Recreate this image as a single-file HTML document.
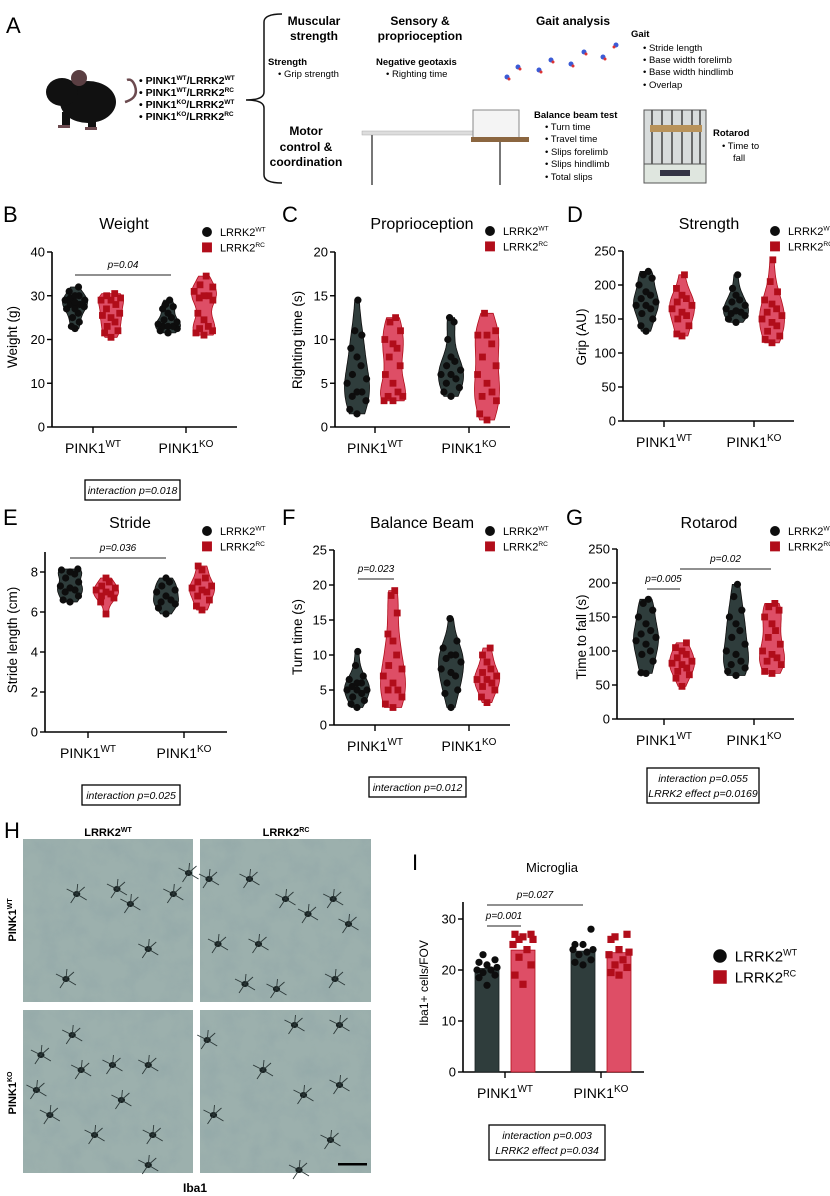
<!DOCTYPE html>
<html><head><meta charset="utf-8">
<style>
html,body{margin:0;padding:0;background:#fff;}
body{width:830px;height:1196px;overflow:hidden;position:relative;font-family:"Liberation Sans",sans-serif;}
svg{position:absolute;left:0;top:0;}
</style></head>
<body>
<svg id="fig" width="830" height="1196" viewBox="0 0 830 1196" xmlns="http://www.w3.org/2000/svg" font-family="Liberation Sans, sans-serif">
<defs>
<filter id="tex" x="0" y="0" width="100%" height="100%">
<feTurbulence type="fractalNoise" baseFrequency="0.05" numOctaves="4" seed="3" result="n"/>
<feColorMatrix in="n" type="matrix" values="0 0 0 0 0.30  0 0 0 0 0.40  0 0 0 0 0.40  -2.2 0 0 0 1.35" result="c"/>
<feComposite in="c" in2="SourceGraphic" operator="in"/>
</filter>
</defs>

<!-- Panel A -->
<g>
<text x="6" y="33" font-size="22">A</text>
<g>
<path d="M125 102 q14 -4 10 -16 q-3 -8 -8 -6" stroke="#6b4a4f" stroke-width="2.5" fill="none"/>
<ellipse cx="88" cy="102" rx="28" ry="21" fill="#111"/>
<ellipse cx="62" cy="92" rx="16" ry="14" fill="#111"/>
<circle cx="79" cy="78" r="8" fill="#5a3e42"/>
<rect x="62" y="112" width="8" height="15" fill="#111"/><rect x="88" y="112" width="8" height="17" fill="#111"/>
<rect x="58" y="125" width="12" height="3" fill="#6b4a4f"/><rect x="85" y="127" width="12" height="3" fill="#6b4a4f"/>
</g>
<g font-size="10.5" font-weight="bold">
<text x="139" y="84">• PINK1<tspan font-size="6.5" dy="-4">WT</tspan><tspan dy="4">/LRRK2</tspan><tspan font-size="6.5" dy="-4">WT</tspan></text>
<text x="139" y="96">• PINK1<tspan font-size="6.5" dy="-4">WT</tspan><tspan dy="4">/LRRK2</tspan><tspan font-size="6.5" dy="-4">RC</tspan></text>
<text x="139" y="108">• PINK1<tspan font-size="6.5" dy="-4">KO</tspan><tspan dy="4">/LRRK2</tspan><tspan font-size="6.5" dy="-4">WT</tspan></text>
<text x="139" y="120">• PINK1<tspan font-size="6.5" dy="-4">KO</tspan><tspan dy="4">/LRRK2</tspan><tspan font-size="6.5" dy="-4">RC</tspan></text>
</g>
<path d="M282 14 q-18 0 -18 8 v70 q0 8 -18 8 q18 0 18 8 v67 q0 8 18 8" stroke="#111" stroke-width="1.5" fill="none"/>
<g font-size="12" font-weight="bold" text-anchor="middle">
<text x="314" y="25">Muscular</text><text x="314" y="40">strength</text>
<text x="420" y="25">Sensory &amp;</text><text x="420" y="40">proprioception</text>
<text x="573" y="25">Gait analysis</text>
<text x="306" y="135">Motor</text><text x="306" y="151">control &amp;</text><text x="306" y="166">coordination</text>
</g>
<g font-size="9.5">
<text x="268" y="65" font-weight="bold">Strength</text>
<text x="278" y="77">• Grip strength</text>
<text x="376" y="65" font-weight="bold">Negative geotaxis</text>
<text x="386" y="77">• Righting time</text>
<text x="631" y="37" font-weight="bold">Gait</text>
<text x="643" y="51">• Stride length</text>
<text x="643" y="63">• Base width forelimb</text>
<text x="643" y="75">• Base width hindlimb</text>
<text x="643" y="88">• Overlap</text>
<text x="534" y="118" font-weight="bold">Balance beam test</text>
<text x="545" y="130">• Turn time</text>
<text x="545" y="142">• Travel time</text>
<text x="545" y="155">• Slips forelimb</text>
<text x="545" y="167">• Slips hindlimb</text>
<text x="545" y="180">• Total slips</text>
<text x="713" y="136" font-weight="bold">Rotarod</text>
<text x="722" y="149">• Time to</text>
<text x="733" y="161">fall</text>
</g>
<g>
<g fill="#3b5bd6"><circle cx="507" cy="77" r="2.5"/><circle cx="518" cy="67" r="2.5"/><circle cx="539" cy="70" r="2.5"/><circle cx="551" cy="60" r="2.5"/><circle cx="571" cy="64" r="2.5"/><circle cx="584" cy="52" r="2.5"/><circle cx="603" cy="57" r="2.5"/><circle cx="616" cy="45" r="2.5"/></g>
<g fill="#d33"><circle cx="509" cy="79" r="1.5"/><circle cx="520" cy="69" r="1.5"/><circle cx="541" cy="72" r="1.5"/><circle cx="553" cy="62" r="1.5"/><circle cx="573" cy="66" r="1.5"/><circle cx="586" cy="54" r="1.5"/><circle cx="605" cy="59" r="1.5"/><circle cx="614" cy="47" r="1.5"/></g>
</g>
<g>
<rect x="362" y="131" width="112" height="4" fill="#ddd" stroke="#aaa" stroke-width="0.5"/>
<rect x="371" y="135" width="2" height="50" fill="#777"/><rect x="499" y="140" width="2" height="45" fill="#777"/>
<rect x="473" y="110" width="46" height="28" fill="#f4f4f4" stroke="#888"/>
<rect x="471" y="137" width="58" height="5" fill="#8b6640"/>
</g>
<g>
<rect x="644" y="110" width="62" height="54" fill="#d8dcdc" stroke="#555"/>
<g stroke="#444" stroke-width="1.5"><line x1="652" y1="110" x2="652" y2="164"/><line x1="662" y1="110" x2="662" y2="164"/><line x1="672" y1="110" x2="672" y2="164"/><line x1="682" y1="110" x2="682" y2="164"/><line x1="692" y1="110" x2="692" y2="164"/><line x1="700" y1="110" x2="700" y2="164"/></g>
<rect x="650" y="125" width="52" height="7" fill="#b8925a"/>
<rect x="644" y="164" width="62" height="19" fill="#dfe6df" stroke="#555"/>
<rect x="660" y="170" width="30" height="6" fill="#334"/>
</g>
</g>

<!-- Micrographs panel H -->
<g>
<text x="4" y="838" font-size="22">H</text>
<text x="108" y="836" font-size="11" font-weight="bold" text-anchor="middle">LRRK2<tspan font-size="7" dy="-4">WT</tspan></text>
<text x="286" y="836" font-size="11" font-weight="bold" text-anchor="middle">LRRK2<tspan font-size="7" dy="-4">RC</tspan></text>
<text transform="translate(16,920) rotate(-90)" font-size="11" font-weight="bold" text-anchor="middle">PINK1<tspan font-size="7" dy="-4">WT</tspan></text>
<text transform="translate(16,1093) rotate(-90)" font-size="11" font-weight="bold" text-anchor="middle">PINK1<tspan font-size="7" dy="-4">KO</tspan></text>
<g id="micro"></g>
<rect x="338" y="1163" width="29" height="2.5" fill="#000"/>
<text x="195" y="1192" font-size="12" font-weight="bold" text-anchor="middle">Iba1</text>
</g>

<g id="charts"></g>
</svg>

<script>
// ---------- DATA ----------
const categories = ["PINK1WT", "PINK1KO"];
const seriesNames = ["LRRK2WT", "LRRK2RC"];

const weightWtWt = [22.5,23,24,25,26,27,27.5,28,28.5,29,29,29.5,30,30,31,32,28,27];
const weightWtRc = [20.5,21.5,22,23,24,25,25.5,26,27,28,29,29,29.5,30,30.5];
const weightKoWt = [21.5,22,22.5,23,23,23.5,24,24.5,25,26,27,27.5,28,29,23];
const weightKoRc = [21,21.5,22,22.5,23,24.5,26,29,29.5,30,30,31,32,32.5,34.5];

const rightWtWt = [1.5,2,3,3.5,4,4,5,5.5,6,7,8,9,10.5,11,14.5];
const rightWtRc = [3,3,3.5,3.5,4,5,6,7,8,9,9.5,10,11,12,12.5];
const rightKoWt = [3.5,4,4.5,5,5.5,6,6,6.5,7,7.5,8,10,12,12.5];
const rightKoRc = [0.8,1.5,3,3.5,4,5,6,7,8,9.5,10.5,10.5,11,13];

const gripWtWt = [132,140,150,158,165,170,175,180,185,190,200,210,215,220,170];
const gripWtRc = [125,128,140,150,155,160,165,170,175,180,185,195,215];
const gripKoWt = [145,150,155,158,162,165,170,175,178,185,195,215,160];
const gripKoRc = [115,120,125,132,140,145,150,155,160,165,172,178,190,205,237];

const strideWtWt = [6.5,6.6,6.8,7,7.1,7.3,7.5,7.7,7.9,8,8.1,8.15,7.2];
const strideWtRc = [5.9,6.5,6.7,6.8,6.9,7,7.1,7.2,7.3,7.5,7.7];
const strideKoWt = [5.9,6.2,6.4,6.5,6.6,6.8,7,7.1,7.3,7.5,7.7];
const strideKoRc = [6.1,6.3,6.6,6.8,7,7.1,7.2,7.3,7.5,7.7,8.1,8.3];

const turnWtWt = [2.5,3,3.5,4,4.5,5,5,5,5.5,6,6,6.5,7,8.5,10.5];
const turnWtRc = [2.5,3,4,5,5,6,7,8,8.5,10,12,13,16,18.5,19.2];
const turnKoWt = [2.5,4.5,5,6,7,7.5,8,9,9.5,10,10,11,12,15.2];
const turnKoRc = [3.2,4,5,5.5,6,6.5,6.5,7,7.5,8,9,10,11];

const rotaWtWt = [67,68,85,95,100,110,115,120,125,130,140,150,160,170,176];
const rotaWtRc = [48,60,65,70,75,80,82,85,90,95,100,105,112];
const rotaKoWt = [64,70,75,80,85,95,100,110,120,130,140,150,160,180,198];
const rotaKoRc = [67,70,80,85,90,95,100,110,120,130,140,150,160,165,170];

const microWtWt = [17,18.5,19,19.5,20,20,20.5,21,21.5,22,23];
const microWtRc = [17.2,19,21,22.5,24,25,26,26.5,27,27,26];
const microKoWt = [21,21.5,22,23,23.5,24,24,25,25,28];
const microKoRc = [19,19.5,20.5,21,22,23,23.5,24,26,27,26.5];
const microMeans = [20.3, 23.9, 23.7, 23.4];

const tickLabels = {
  weight:["0","10","20","30","40"], right:["0","5","10","15","20"], grip:["0","50","100","150","200","250"],
  stride:["0","2","4","6","8"], turn:["0","5","10","15","20","25"], rota:["0","50","100","150","200","250"], micro:["0","10","20","30"]
};

// ---------- DRAWING ----------
const NS = "http://www.w3.org/2000/svg";
const root = document.getElementById("charts");
function mk(tag, attrs, parent){ const e=document.createElementNS(NS,tag); for(const k in attrs) e.setAttribute(k,attrs[k]); (parent||root).appendChild(e); return e; }
const DARK="#2f3d3c", DARKPT="#0d0d0d", RED="#de4e66", REDPT="#b10d1a";

function catLabel(g, x, y, cat){
  const t = mk("text",{x:x,y:y,"font-size":14,"text-anchor":"middle"},g);
  
  
  t.appendChild(document.createTextNode("PINK1"));
  const s = mk("tspan",{"font-size":10,dy:-6},t); s.textContent = cat.replace("PINK1","");
}
function legend(g, x, y, size){
  const fs = size||11, r = fs*0.45;
  const c = mk("circle",{cx:x,cy:y,r:r,fill:DARKPT},g);
  
  
  const t1 = mk("text",{x:x+r+8,y:y+fs*0.35,"font-size":fs},g);
  
  
  t1.textContent="LRRK2"; const s1=mk("tspan",{"font-size":fs*0.6,dy:-fs*0.4},t1); s1.textContent="WT";
  const y2 = y + fs*1.4;
  const q = mk("rect",{x:x-r,y:y2-r,width:2*r,height:2*r,fill:REDPT},g);
  
  
  const t2 = mk("text",{x:x+r+8,y:y2+fs*0.35,"font-size":fs},g);
  
  
  t2.textContent="LRRK2"; const s2=mk("tspan",{"font-size":fs*0.6,dy:-fs*0.4},t2); s2.textContent="RC";
}
function pline(g, x1, x2, y, label){
  const l = mk("line",{x1:x1,x2:x2,y1:y,y2:y,stroke:"#222","stroke-width":1},g);
  
  
  const t = mk("text",{x:(x1+x2)/2,y:y-7,"font-size":10,"font-style":"italic","text-anchor":"middle"},g);
  
  
  t.textContent = label;
}
function statBox(x, y, w, lines, name){
  const g = mk("g",{});
  
  
  mk("rect",{x:x,y:y,width:w,height:lines.length*15+5,fill:"#fff",stroke:"#000","stroke-width":1.3},g);
  lines.forEach((s,i)=>{ const t=mk("text",{x:x+w/2,y:y+14+i*15,"font-size":10.5,"font-style":"italic","text-anchor":"middle"},g); t.textContent=s; });
}

function axes(g, p){
  const yScale = v => p.y0 + (p.yT - p.y0) * v / p.vT;
  mk("line",{x1:p.ax,x2:p.ax,y1:p.axTop!==undefined?p.axTop:p.yT,y2:p.y0+0.5,stroke:"#000","stroke-width":1.6},g);
  mk("line",{x1:p.ax,x2:p.xEnd,y1:p.y0,y2:p.y0,stroke:"#000","stroke-width":1.6},g);
  p.ticks.forEach((lab)=>{
    const v = parseFloat(lab), y = yScale(v);
    mk("line",{x1:p.ax-5,x2:p.ax,y1:y,y2:y,stroke:"#000","stroke-width":1.4},g);
    const t = mk("text",{x:p.ax-7,y:y+4.5,"font-size":13,"text-anchor":"end"},g);
    
    
    t.textContent = lab;
  });
  p.cx.forEach((x,i)=>{
    mk("line",{x1:x,x2:x,y1:p.y0,y2:p.y0+6,stroke:"#000","stroke-width":1.4},g);
    catLabel(g, x, p.y0+26, categories[i]);
  });
  const yt = mk("text",{transform:`translate(${p.ytx},${p.yty}) rotate(-90)`,"font-size":p.ytfs||13.5,"text-anchor":"middle"},g);
  
  
  yt.textContent = p.ytitle;
  const tt = mk("text",{x:p.tx,y:p.ty,"font-size":p.tfs||16,"text-anchor":"middle"},g);
  
  
  tt.textContent = p.title;
  const L = mk("text",{x:p.lx,y:p.ly,"font-size":22},g);
  
  
  L.textContent = p.letter;
  return yScale;
}

function violin(g, vals, cx, yScale, fill, ptFill, square, name){
  const vg = mk("g",{},g);
  
  
  const mn = Math.min(...vals), mx = Math.max(...vals), rng = (mx-mn)||1, bw = rng*0.16;
  const N = 40, dens = [];
  for(let i=0;i<=N;i++){ const v = mn + rng*i/N; let d=0; vals.forEach(u=>{ d+=Math.exp(-0.5*((v-u)/bw)**2); }); dens.push([v,d]); }
  const dmax = Math.max(...dens.map(d=>d[1])), W = 12.5;
  let path = "";
  dens.forEach((d,i)=>{ path += (i?"L":"M") + (cx + W*d[1]/dmax).toFixed(1) + " " + yScale(d[0]).toFixed(1) + " "; });
  for(let i=N;i>=0;i--){ const d=dens[i]; path += "L" + (cx - W*d[1]/dmax).toFixed(1) + " " + yScale(d[0]).toFixed(1) + " "; }
  const pv = mk("path",{d:path+"Z",fill:fill,stroke:ptFill,"stroke-width":0.8},vg);
  
  
  const sorted = vals.slice().sort((a,b)=>a-b);
  sorted.forEach((v,i)=>{
    let d=0; vals.forEach(u=>{ d+=Math.exp(-0.5*((v-u)/bw)**2); });
    const hw = W*d/dmax*0.8, off = [0,-1,1,-0.5,0.5][i%5]*hw;
    const x = cx+off, y = yScale(v);
    let m;
    if(square){ m = mk("rect",{x:x-3.4,y:y-3.4,width:6.8,height:6.8,fill:ptFill},vg); }
    else { m = mk("circle",{cx:x,cy:y,r:3.6,fill:ptFill},vg); }
    
    
  });
}

function violinPanel(p, groups, name){
  const g = mk("g",{});
  
  
  const ys = axes(g, p);
  const off = 18;
  violin(g, groups[0], p.cx[0]-off, ys, DARK, DARKPT, false, "violin-pink1wt-lrrk2wt");
  violin(g, groups[1], p.cx[0]+off, ys, RED, REDPT, true, "violin-pink1wt-lrrk2rc");
  violin(g, groups[2], p.cx[1]-off, ys, DARK, DARKPT, false, "violin-pink1ko-lrrk2wt");
  violin(g, groups[3], p.cx[1]+off, ys, RED, REDPT, true, "violin-pink1ko-lrrk2rc");
  legend(g, p.legx, p.legy);
  (p.plines||[]).forEach(pl=>pline(g, pl[0], pl[1], pl[2], pl[3]));
}

violinPanel({ax:52,xEnd:237,y0:427,yT:252,vT:40,ticks:tickLabels.weight,cx:[93,186],ytitle:"Weight (g)",ytx:17,yty:337,title:"Weight",tx:124,ty:229,letter:"B",lx:3,ly:222,legx:207,legy:232,
  plines:[[75,171,275,"p=0.04"]]},[weightWtWt,weightWtRc,weightKoWt,weightKoRc],"panel-b-weight");
violinPanel({ax:335,xEnd:510,y0:427,yT:252,vT:20,ticks:tickLabels.right,cx:[375,469],ytitle:"Righting time (s)",ytx:302,yty:340,title:"Proprioception",tx:422,ty:229,letter:"C",lx:282,ly:222,legx:490,legy:231},
  [rightWtWt,rightWtRc,rightKoWt,rightKoRc],"panel-c-proprioception");
violinPanel({ax:623,xEnd:794,y0:421,yT:251,vT:250,ticks:tickLabels.grip,cx:[664,754],ytitle:"Grip (AU)",ytx:586,yty:337,title:"Strength",tx:709,ty:229,letter:"D",lx:567,ly:222,legx:775,legy:231},
  [gripWtWt,gripWtRc,gripKoWt,gripKoRc],"panel-d-strength");
violinPanel({ax:45,xEnd:227,y0:732,yT:572,vT:8,axTop:552,ticks:tickLabels.stride,cx:[88,184],ytitle:"Stride length (cm)",ytx:17,yty:640,title:"Stride",tx:130,ty:528,letter:"E",lx:3,ly:525,legx:207,legy:531,
  plines:[[70,166,558,"p=0.036"]]},[strideWtWt,strideWtRc,strideKoWt,strideKoRc],"panel-e-stride");
violinPanel({ax:334,xEnd:510,y0:725,yT:550,vT:25,ticks:tickLabels.turn,cx:[375,469],ytitle:"Turn time (s)",ytx:302,yty:637,title:"Balance Beam",tx:422,ty:528,letter:"F",lx:282,ly:525,legx:490,legy:531,
  plines:[[358,394,579,"p=0.023"]]},[turnWtWt,turnWtRc,turnKoWt,turnKoRc],"panel-f-balance-beam");
violinPanel({ax:617,xEnd:794,y0:719,yT:549,vT:250,ticks:tickLabels.rota,cx:[664,754],ytitle:"Time to fall (s)",ytx:586,yty:637,title:"Rotarod",tx:709,ty:528,letter:"G",lx:566,ly:525,legx:775,legy:531,
  plines:[[647,680,589,"p=0.005"],[680,771,569,"p=0.02"]]},[rotaWtWt,rotaWtRc,rotaKoWt,rotaKoRc],"panel-g-rotarod");

statBox(85,480,95,["interaction p=0.018"],"stat-box-weight");
statBox(82,785,98,["interaction p=0.025"],"stat-box-stride");
statBox(369,777,97,["interaction p=0.012"],"stat-box-balance");
statBox(647,768,112,["interaction p=0.055","LRRK2 effect p=0.0169"],"stat-box-rotarod");
statBox(489,1125,116,["interaction p=0.003","LRRK2 effect p=0.034"],"stat-box-microglia");

// Panel I bar chart
(function(){
  const g = mk("g",{});
  
  
  const p = {ax:463,xEnd:644,y0:1072,yT:919,vT:30,axTop:902,ticks:tickLabels.micro,cx:[505,601],ytitle:"Iba1+ cells/FOV",ytx:428,yty:983,ytfs:12,title:"Microglia",tx:552,ty:872,tfs:13,letter:"I",lx:412,ly:870};
  const ys = axes(g, p);
  const groups = [microWtWt,microWtRc,microKoWt,microKoRc];
  const xs = [p.cx[0]-18,p.cx[0]+18,p.cx[1]-18,p.cx[1]+18];
  groups.forEach((vals,i)=>{
    const red = i%2===1, x = xs[i], m = microMeans[i];
    const b = mk("rect",{x:x-12,y:ys(m),width:24,height:p.y0-ys(m),fill:red?RED:DARK,stroke:red?REDPT:"#1a2222","stroke-width":0.8},g);
    
    
    vals.forEach((v,j)=>{
      const off = [0,-8,8,-4,4,-10,10][j%7], y = ys(v);
      let pt;
      if(red){ pt = mk("rect",{x:x+off-3.6,y:y-3.6,width:7.2,height:7.2,fill:REDPT},g); }
      else { pt = mk("circle",{cx:x+off,cy:y,r:3.6,fill:DARKPT},g); }
      
      
    });
  });
  pline(g, 487, 521, 926, "p=0.001");
  pline(g, 487, 583, 905, "p=0.027");
  legend(g, 720, 956, 15);
})();

// Micrographs
(function(){
  const mg = document.getElementById("micro");
  const frames = [[23,839,170,163,"micrograph-pink1wt-lrrk2wt"],[200,839,171,163,"micrograph-pink1wt-lrrk2rc"],[23,1010,170,163,"micrograph-pink1ko-lrrk2wt"],[200,1010,171,163,"micrograph-pink1ko-lrrk2rc"]];
  const cells = [
    [[60,55],[105,50],[120,65],[168,55],[185,34],[48,140],[140,110]],
    [[10,40],[55,40],[95,60],[148,60],[120,75],[20,105],[65,105],[50,145],[85,150],[150,140],[165,85]],
    [[55,25],[20,45],[65,60],[100,55],[140,55],[15,80],[30,105],[110,90],[80,125],[145,125],[140,155]],
    [[8,30],[105,15],[155,15],[70,60],[155,75],[115,85],[15,105],[145,130],[110,160]]
  ];
  frames.forEach((f,i)=>{
    const g = document.createElementNS(NS,"g"); mg.appendChild(g);
    
    
    const r1 = document.createElementNS(NS,"rect");
    r1.setAttribute("x",f[0]); r1.setAttribute("y",f[1]); r1.setAttribute("width",f[2]); r1.setAttribute("height",f[3]); r1.setAttribute("fill","#9cb0ad"); g.appendChild(r1);
    const r2 = document.createElementNS(NS,"rect");
    r2.setAttribute("x",f[0]); r2.setAttribute("y",f[1]); r2.setAttribute("width",f[2]); r2.setAttribute("height",f[3]); r2.setAttribute("fill","#000"); r2.setAttribute("filter","url(#tex)"); r2.setAttribute("opacity","0.8"); g.appendChild(r2);
    cells[i].forEach(c=>{
      const cx=f[0]+c[0]*f[2]/190, cy=f[1]+c[1];
      if(cy>f[1]+f[3]-3) return;
      const e = document.createElementNS(NS,"ellipse");
      e.setAttribute("cx",cx); e.setAttribute("cy",cy); e.setAttribute("rx",3.6); e.setAttribute("ry",3); e.setAttribute("fill","#162020"); g.appendChild(e);
      [[-10,-5],[8,-7],[-6,9],[10,6],[1,-10]].forEach(d=>{ const l=document.createElementNS(NS,"line"); l.setAttribute("x1",cx); l.setAttribute("y1",cy); l.setAttribute("x2",cx+d[0]); l.setAttribute("y2",cy+d[1]); l.setAttribute("stroke","#2c3838"); l.setAttribute("stroke-width","0.9"); g.appendChild(l); });
    });
  });
})();
</script>
</body></html>
